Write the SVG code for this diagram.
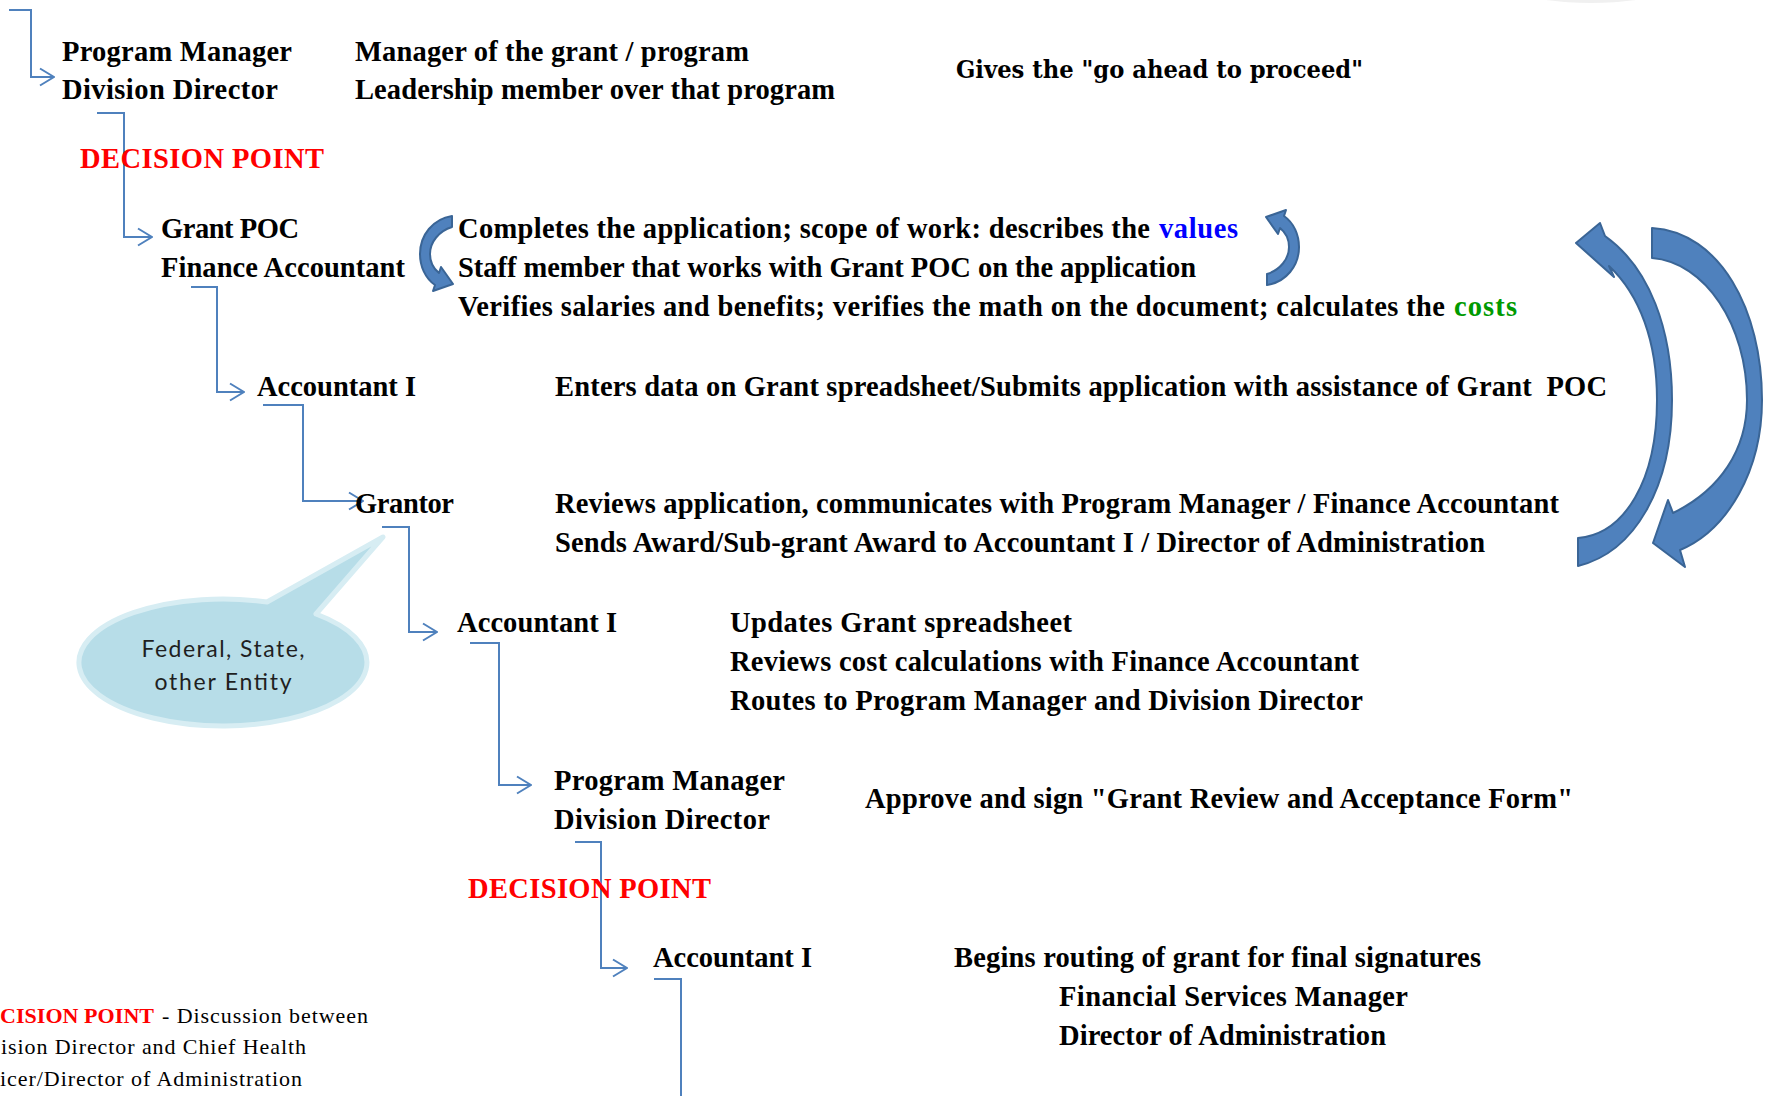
<svg xmlns="http://www.w3.org/2000/svg" width="1768" height="1096" viewBox="0 0 1768 1096">
<style>
.t{font-family:"Liberation Serif","Times New Roman",serif;font-size:28.5px;font-weight:bold;fill:#000}
.dp{font-family:"Liberation Serif","Times New Roman",serif;font-size:28.5px;font-weight:bold;fill:#ff0000}
.go{font-family:"DejaVu Serif","Liberation Serif",serif;font-size:24px;font-weight:bold;fill:#000}
.note{font-family:"Liberation Serif","Times New Roman",serif;font-size:22px;fill:#000}
.noter{font-family:"Liberation Serif","Times New Roman",serif;font-size:22px;font-weight:bold;fill:#ff0000}
.bub{font-family:Lato,"Noto Sans",sans-serif;font-size:23px;fill:#1f1f1f}
.conn{fill:none;stroke:#4f81bd;stroke-width:2}
.arr{marker-end:url(#chev)}
.big{fill:#4f81bd;stroke:#3a6596;stroke-width:2;stroke-linejoin:round}
.pre{white-space:pre}
</style>
<defs>
<marker id="chev" markerUnits="userSpaceOnUse" viewBox="0 0 16 20" markerWidth="16" markerHeight="20" refX="15" refY="10" orient="auto">
<path d="M1,1.5 L15,10 L1,18.5" fill="none" stroke="#4f81bd" stroke-width="2"/>
</marker>
<path id="smallArrow" d="M452,216 L452,227 C439,231 430,242 430,254 C430,263 434,269 439,273 L441,267 L453,284 L433,291 L435,285 C425,278 420,266 420,254 C420,235 433,219 452,216 Z"/>
</defs>
<rect width="1768" height="1096" fill="#ffffff"/>
<ellipse cx="1591" cy="-6" rx="60" ry="9" fill="#f0f0f0"/>

<g id="connectors">
<path class="conn arr" d="M9,10 H31 V77 H54"/>
<path class="conn arr" d="M97,113 H124 V237 H152"/>
<path class="conn arr" d="M191,287 H217 V392 H244"/>
<path class="conn arr" d="M263,405 H303 V501 H363"/>
<path class="conn arr" d="M382,527 H409 V632 H437"/>
<path class="conn arr" d="M470,643 H499 V785 H531"/>
<path class="conn arr" d="M575,842 H601 V968 H627"/>
<path class="conn" d="M654,979 H681 V1100"/>
</g>

<g id="program-manager-1">
<text class="t" x="62" y="61" textLength="230" lengthAdjust="spacing">Program Manager</text>
<text class="t" x="62" y="99" textLength="216" lengthAdjust="spacing">Division Director</text>
<text class="t" x="355" y="61" textLength="394" lengthAdjust="spacing">Manager of the grant / program</text>
<text class="t" x="355" y="99" textLength="480" lengthAdjust="spacing">Leadership member over that program</text>
<text class="go" x="956" y="78" textLength="407" lengthAdjust="spacingAndGlyphs">Gives the "go ahead to proceed"</text>
</g>

<g id="decision-point-1">
<text class="dp" x="80" y="168" textLength="244" lengthAdjust="spacing">DECISION POINT</text>
</g>

<g id="grant-poc">
<text class="t" x="161" y="238" textLength="138" lengthAdjust="spacing">Grant POC</text>
<text class="t" x="161" y="277" textLength="244" lengthAdjust="spacing">Finance Accountant</text>
<text class="t" x="458" y="238" textLength="692" lengthAdjust="spacing">Completes the application; scope of work: describes the</text>
<text class="t" x="1159" y="238" textLength="79" lengthAdjust="spacing" style="fill:#0000ff">values</text>
<text class="t" x="458" y="277" textLength="738" lengthAdjust="spacing">Staff member that works with Grant POC on the application</text>
<text class="t" x="458" y="316" textLength="987" lengthAdjust="spacing">Verifies salaries and benefits; verifies the math on the document; calculates the</text>
<text class="t" x="1454" y="316" textLength="63" lengthAdjust="spacing" style="fill:#009a00">costs</text>
<use href="#smallArrow" class="big"/>
<use href="#smallArrow" class="big" transform="translate(1719,501) rotate(180)"/>
</g>

<g id="accountant-1">
<text class="t" x="257" y="396" textLength="159" lengthAdjust="spacing">Accountant I</text>
<text class="t pre" x="555" y="396" textLength="1052" lengthAdjust="spacing">Enters data on Grant spreadsheet/Submits application with assistance of Grant  POC</text>
</g>

<g id="grantor">
<text class="t" x="355" y="513" textLength="99" lengthAdjust="spacing">Grantor</text>
<text class="t" x="555" y="513" textLength="1004" lengthAdjust="spacing">Reviews application, communicates with Program Manager / Finance Accountant</text>
<text class="t" x="555" y="552" textLength="930" lengthAdjust="spacing">Sends Award/Sub-grant Award to Accountant I / Director of Administration</text>
</g>

<g id="cycle-arrows">
<path class="big" d="M1578,538 C1625,534 1657,480 1657,400 C1657,342 1640,295 1609,266 L1614,277 L1576,243 L1600,223 L1605,236 C1650,268 1672,330 1672,400 C1672,487 1635,552 1578,566 Z"/>
<path class="big" d="M1652,228 C1720,232 1762,310 1762,400 C1762,470 1728,530 1680,550 L1685,567 L1653,543 L1668,500 L1673,513 C1720,490 1747,450 1747,400 C1747,325 1705,262 1652,258 Z"/>
</g>

<g id="callout">
<path d="M267,602 L383,537 L316,614 A144,63.5 0 1 1 267,602 Z" fill="#b7dde8" stroke="#d7edf3" stroke-width="5" stroke-linejoin="round"/>
<text class="bub" x="223" y="657" text-anchor="middle" textLength="163" lengthAdjust="spacing">Federal, State,</text>
<text class="bub" x="223" y="690" text-anchor="middle" textLength="137" lengthAdjust="spacing">other Entity</text>
</g>

<g id="accountant-2">
<text class="t" x="457" y="632" textLength="160" lengthAdjust="spacing">Accountant I</text>
<text class="t" x="730" y="632" textLength="342" lengthAdjust="spacing">Updates Grant spreadsheet</text>
<text class="t" x="730" y="671" textLength="629" lengthAdjust="spacing">Reviews cost calculations with Finance Accountant</text>
<text class="t" x="730" y="710" textLength="633" lengthAdjust="spacing">Routes to Program Manager and Division Director</text>
</g>

<g id="program-manager-2">
<text class="t" x="554" y="790" textLength="231" lengthAdjust="spacing">Program Manager</text>
<text class="t" x="554" y="829" textLength="216" lengthAdjust="spacing">Division Director</text>
<text class="t" x="865" y="808" textLength="708" lengthAdjust="spacing">Approve and sign "Grant Review and Acceptance Form"</text>
</g>

<g id="decision-point-2">
<text class="dp" x="468" y="898" textLength="243" lengthAdjust="spacing">DECISION POINT</text>
</g>

<g id="accountant-3">
<text class="t" x="653" y="967" textLength="159" lengthAdjust="spacing">Accountant I</text>
<text class="t" x="954" y="967" textLength="527" lengthAdjust="spacing">Begins routing of grant for final signatures</text>
<text class="t" x="1059" y="1006" textLength="349" lengthAdjust="spacing">Financial Services Manager</text>
<text class="t" x="1059" y="1045" textLength="327" lengthAdjust="spacing">Director of Administration</text>
</g>

<g id="note">
<text class="noter" x="0" y="1023" textLength="154" lengthAdjust="spacing">CISION POINT</text>
<text class="note" x="162" y="1023" textLength="206" lengthAdjust="spacing">- Discussion between</text>
<text class="note" x="1" y="1054" textLength="305" lengthAdjust="spacing">ision Director and Chief Health</text>
<text class="note" x="0" y="1086" textLength="302" lengthAdjust="spacing">icer/Director of Administration</text>
</g>
</svg>
